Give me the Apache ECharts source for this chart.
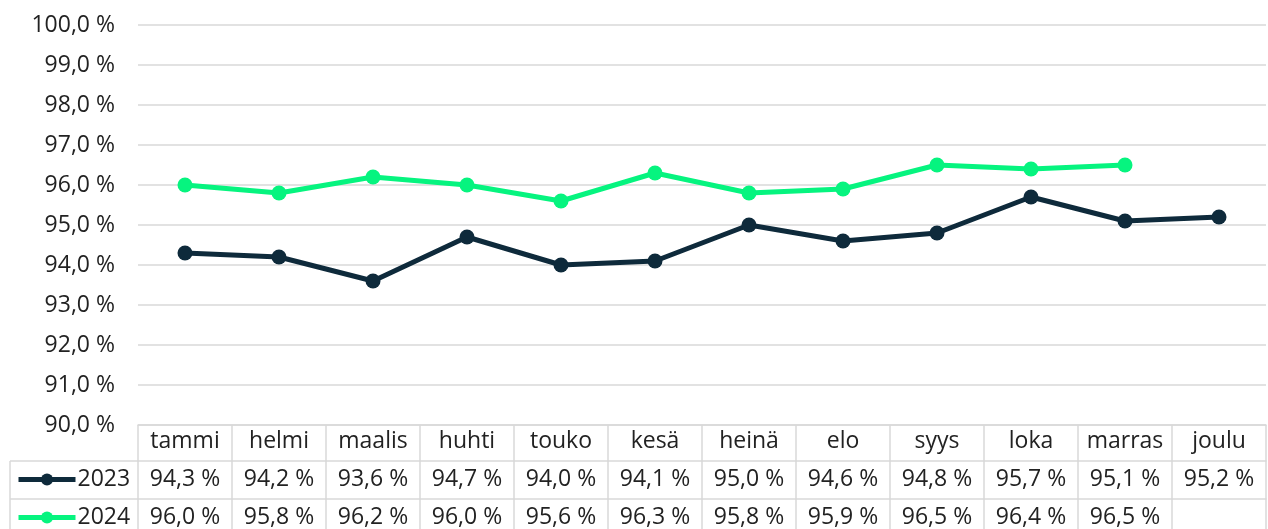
<!DOCTYPE html>
<html>
<head>
<meta charset="utf-8" />
<title>Kuukausittainen osuus</title>
<script src="https://cdn.jsdelivr.net/npm/echarts@6/dist/echarts.min.js"></script>
<style>
  html, body { margin: 0; padding: 0; background: #fff; }
  #chart { width: 1268px; height: 529px; }
</style>
</head>
<body>
<div id="chart"></div>
<script type="text/javascript">
// kuukaudet
var months = ['tammi', 'helmi', 'maalis', 'huhti', 'touko', 'kesä', 'heinä', 'elo', 'syys', 'loka', 'marras', 'joulu'];
// sarjat
var values2023 = [94.3, 94.2, 93.6, 94.7, 94.0, 94.1, 95.0, 94.6, 94.8, 95.7, 95.1, 95.2];
var values2024 = [96.0, 95.8, 96.2, 96.0, 95.6, 96.3, 95.8, 95.9, 96.5, 96.4, 96.5];
// y-akselin asteikko
var yMin = 90, yMax = 100, yStep = 1;

var fontFam = '"Open Sans", Lato, sans-serif';
var fontSz = 23;
var txtColor = '#222222';
var borderColor = '#d9d9d9';
var col2023 = '#0e2a3b';
var col2024 = '#06f47f';

function pct(v) {
  if (v === undefined || v === null || v === '') return '';
  return v.toFixed(1).replace('.', ',') + ' %';
}

// taulukon rivit (tekstit)
var row2023 = values2023.map(pct);
var row2024 = months.map(function (m, i) { return pct(values2024[i]); });

function tableAxis(data, offset, tickLen, margin) {
  return {
    type: 'category',
    position: 'bottom',
    offset: offset,
    data: data,
    boundaryGap: true,
    axisLine: { show: true, lineStyle: { color: borderColor, width: 1.5 } },
    axisTick: { show: true, length: tickLen, lineStyle: { color: borderColor, width: 1.5 } },
    axisLabel: { interval: 0, margin: margin, color: txtColor, fontSize: fontSz, fontFamily: fontFam },
    splitLine: { show: false }
  };
}

function legendRow(name, top) {
  return {
    left: 16,
    top: top,
    padding: 0,
    itemWidth: 57,
    itemHeight: 15,
    lineStyle: { width: 5 },
    textStyle: { color: txtColor, fontSize: fontSz, fontFamily: fontFam, padding: [0, 0, 0, -3] },
    data: [name]
  };
}

var myChart = echarts.init(document.getElementById('chart'));
var option = {
  animation: false,
  grid: { left: 138, right: 2, top: 25, bottom: 104, containLabel: false },
  legend: [legendRow('2023', 468), legendRow('2024', 506)],
  xAxis: [
    tableAxis(months, 0, 36, 5),
    tableAxis(row2023, 36, 38, 7),
    tableAxis(row2024, 74, 38, 7)
  ],
  yAxis: {
    type: 'value',
    min: yMin,
    max: yMax,
    interval: yStep,
    axisLine: { show: false },
    axisTick: { show: false },
    axisLabel: {
      margin: 23,
      color: txtColor,
      fontSize: fontSz,
      fontFamily: fontFam,
      formatter: function (v) { return pct(v); }
    },
    splitLine: { lineStyle: { color: borderColor, width: 1.5 } }
  },
  graphic: [
    // legend-sarakkeen reunat
    { type: 'line', shape: { x1: 10, y1: 461, x2: 138, y2: 461 }, style: { stroke: borderColor, lineWidth: 1.5 } },
    { type: 'line', shape: { x1: 10, y1: 499, x2: 138, y2: 499 }, style: { stroke: borderColor, lineWidth: 1.5 } },
    { type: 'line', shape: { x1: 10, y1: 537, x2: 138, y2: 537 }, style: { stroke: borderColor, lineWidth: 1.5 } },
    { type: 'line', shape: { x1: 10, y1: 461, x2: 10, y2: 540 }, style: { stroke: borderColor, lineWidth: 1.5 } }
  ],
  series: [
    {
      name: '2023',
      type: 'line',
      data: values2023,
      color: col2023,
      symbol: 'circle',
      symbolSize: 15,
      lineStyle: { width: 5 },
      z: 3
    },
    {
      name: '2024',
      type: 'line',
      data: values2024,
      color: col2024,
      symbol: 'circle',
      symbolSize: 15,
      lineStyle: { width: 5 },
      z: 2
    }
  ]
};
myChart.setOption(option);
</script>
</body>
</html>
